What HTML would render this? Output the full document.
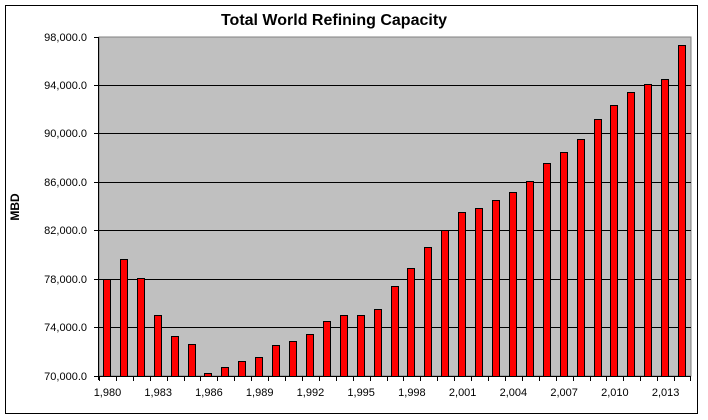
<!DOCTYPE html>
<html><head><meta charset="utf-8"><style>
html,body{margin:0;padding:0;background:#fff;}
svg{display:block;font-family:"Liberation Sans",Arial,sans-serif;}
</style></head><body>
<svg width="708" height="420" viewBox="0 0 708 420" xmlns="http://www.w3.org/2000/svg">
<rect x="5.5" y="5.5" width="692" height="408" fill="#fff" stroke="#000" stroke-width="1"/>
<text x="334" y="25" font-size="16" font-weight="bold" text-anchor="middle">Total World Refining Capacity</text>
<rect x="99" y="37" width="592" height="339" fill="#c0c0c0" stroke="#808080" stroke-width="1"/>
<g stroke="#000" stroke-width="1">
<line x1="99" y1="85.5" x2="691" y2="85.5"/>
<line x1="99" y1="133.5" x2="691" y2="133.5"/>
<line x1="99" y1="182.5" x2="691" y2="182.5"/>
<line x1="99" y1="230.5" x2="691" y2="230.5"/>
<line x1="99" y1="279.5" x2="691" y2="279.5"/>
<line x1="99" y1="327.5" x2="691" y2="327.5"/>
</g>
<g font-size="11" text-anchor="end">
<text x="87" y="41">98,000.0</text>
<text x="87" y="89">94,000.0</text>
<text x="87" y="137">90,000.0</text>
<text x="87" y="186">86,000.0</text>
<text x="87" y="234">82,000.0</text>
<text x="87" y="283">78,000.0</text>
<text x="87" y="331">74,000.0</text>
<text x="87" y="380">70,000.0</text>
</g>
<text transform="translate(19,207) rotate(-90)" font-size="12" font-weight="bold" text-anchor="middle">MBD</text>
<g id="bars" fill="#ff0000" stroke="#000" stroke-width="1"></g>
<g id="ticks" stroke="#000" stroke-width="1"></g>
<line x1="98.5" y1="37" x2="98.5" y2="380" stroke="#000"/>
<line x1="94" y1="37.5" x2="99" y2="37.5" stroke="#000"/>
<line x1="94" y1="85.5" x2="99" y2="85.5" stroke="#000"/>
<line x1="94" y1="133.5" x2="99" y2="133.5" stroke="#000"/>
<line x1="94" y1="182.5" x2="99" y2="182.5" stroke="#000"/>
<line x1="94" y1="230.5" x2="99" y2="230.5" stroke="#000"/>
<line x1="94" y1="279.5" x2="99" y2="279.5" stroke="#000"/>
<line x1="94" y1="327.5" x2="99" y2="327.5" stroke="#000"/>
<line x1="94" y1="376.5" x2="691" y2="376.5" stroke="#000"/>
<g font-size="11" text-anchor="middle" id="xl"></g>
<script>
var tops=[279,259,278,315,336,344,373,367,361,357,345,341,334,321,315,315,309,286,268,247,230,212,208,200,192,181,163,152,139,119,105,92,84,79,45];
var ns="http://www.w3.org/2000/svg",b=document.getElementById("bars"),t=document.getElementById("ticks"),xl=document.getElementById("xl");
var step=592/35;
for(var i=0;i<35;i++){
 var x=Math.round(99+i*step+4)+0.5;
 var r=document.createElementNS(ns,"rect");
 r.setAttribute("x",x);r.setAttribute("y",tops[i]+0.5);r.setAttribute("width",7);r.setAttribute("height",376-tops[i]);
 b.appendChild(r);
 var tx=Math.round(99+i*step)+0.5;
 var l=document.createElementNS(ns,"line");
 l.setAttribute("x1",tx);l.setAttribute("x2",tx);l.setAttribute("y1",376);l.setAttribute("y2",381);t.appendChild(l);
 if(i%3==0){var tt=document.createElementNS(ns,"text");tt.setAttribute("x",99+i*step+step/2);tt.setAttribute("y",396);
 var y=1980+i;tt.textContent=String(y).charAt(0)+","+String(y).slice(1);xl.appendChild(tt);}
}
var l2=document.createElementNS(ns,"line");l2.setAttribute("x1",690.5);l2.setAttribute("x2",690.5);l2.setAttribute("y1",376);l2.setAttribute("y2",381);l2.setAttribute("stroke","#000");t.appendChild(l2);
</script>
</svg>
</body></html>
